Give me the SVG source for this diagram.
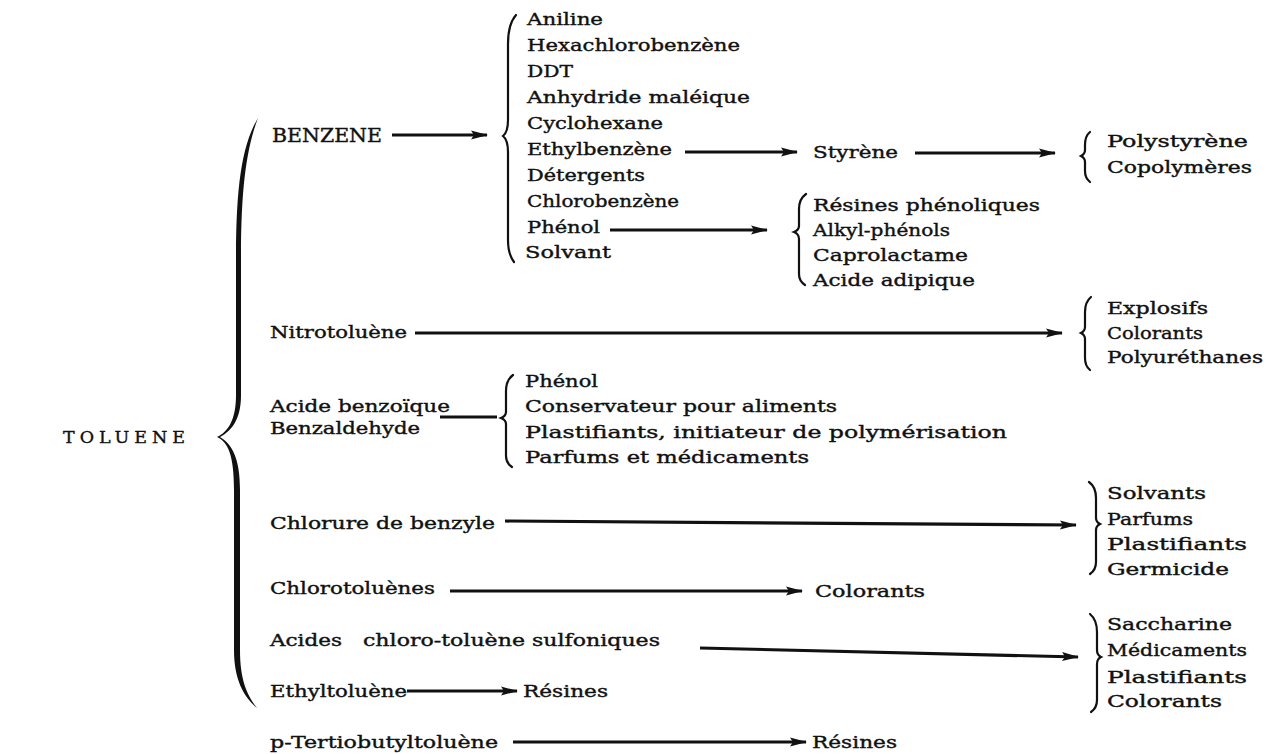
<svg xmlns="http://www.w3.org/2000/svg" width="1266" height="754" viewBox="0 0 1266 754">
<style>
text{font-family:"DejaVu Serif","Liberation Serif",serif;font-size:17.5px;fill:#111;stroke:#111;stroke-width:0.4}
.caps{font-size:19px}
.ar{stroke:#111;stroke-width:3.2;fill:none;marker-end:url(#ah)}
.ln{stroke:#111;stroke-width:3.2;fill:none}
.br{stroke:#111;stroke-width:2.2;fill:none;stroke-linecap:round}
</style>
<defs>
<marker id="ah" markerUnits="userSpaceOnUse" markerWidth="17" markerHeight="10" viewBox="0 0 17 10" refX="16" refY="5" orient="auto">
<path d="M0,0.5 L17,5 L0,9.5 L3,5 z" fill="#111"/>
</marker>
</defs>
<rect width="1266" height="754" fill="#fff"/>

<g id="toluene"><text x="63" y="443" textLength="122" lengthAdjust="spacing">TOLUENE</text>
<path d="M258,118 C242,145 236,185 236,260 L236,395 C236,420 228,432 217,437 C228,442 234,455 234,490 L234,650 C234,680 244,697 257,708 C247,695 240,680 240,650 L240,490 C240,458 232,444 220,437 C233,430 241,418 241,395 L241,260 C241,190 246,150 258,118 Z" fill="#111"/></g>

<g id="benzene"><text class="caps" x="272" y="142" textLength="110" lengthAdjust="spacingAndGlyphs">BENZENE</text></g>
<g id="benzene-products">
<path class="br" d="M516,15 Q508,24 508,44 L508,120 Q508,132 503,136 Q508,140 508,152 L508,240 Q508,254 514,262"/>
<text x="527" y="25" textLength="76" lengthAdjust="spacingAndGlyphs">Aniline</text>
<text x="527" y="51" textLength="213" lengthAdjust="spacingAndGlyphs">Hexachlorobenzène</text>
<text x="527" y="77" textLength="46" lengthAdjust="spacingAndGlyphs">DDT</text>
<text x="527" y="103" textLength="223" lengthAdjust="spacingAndGlyphs">Anhydride maléique</text>
<text x="527" y="129" textLength="136" lengthAdjust="spacingAndGlyphs">Cyclohexane</text>
<text x="527" y="155" textLength="145" lengthAdjust="spacingAndGlyphs">Ethylbenzène</text>
<text x="527" y="181" textLength="118" lengthAdjust="spacingAndGlyphs">Détergents</text>
<text x="527" y="207" textLength="152" lengthAdjust="spacingAndGlyphs">Chlorobenzène</text>
<text x="527" y="233" textLength="73" lengthAdjust="spacingAndGlyphs">Phénol</text>
<text x="525" y="258" textLength="86" lengthAdjust="spacingAndGlyphs">Solvant</text>
</g>
<g id="styrene"><text x="813" y="158" textLength="85" lengthAdjust="spacingAndGlyphs">Styrène</text></g>
<g id="styrene-products">
<path class="br" d="M1090,132 Q1085,136 1085,145 L1085,150 Q1085,154 1081,156 Q1085,158 1085,162 L1085,171 Q1085,178 1090,182"/>
<text x="1107" y="147" textLength="141" lengthAdjust="spacingAndGlyphs">Polystyrène</text>
<text x="1107" y="173" textLength="145" lengthAdjust="spacingAndGlyphs">Copolymères</text>
</g>
<g id="phenol-products">
<path class="br" d="M806,194 Q799,199 799,209 L799,226 Q799,230 794,232 Q799,234 799,239 L799,274 Q799,281 805,285"/>
<text x="813" y="211" textLength="227" lengthAdjust="spacingAndGlyphs">Résines phénoliques</text>
<text x="813" y="236" textLength="137" lengthAdjust="spacingAndGlyphs">Alkyl-phénols</text>
<text x="813" y="261" textLength="155" lengthAdjust="spacingAndGlyphs">Caprolactame</text>
<text x="813" y="286" textLength="162" lengthAdjust="spacingAndGlyphs">Acide adipique</text>
</g>

<g id="nitrotoluene"><text x="270" y="338" textLength="137" lengthAdjust="spacingAndGlyphs">Nitrotoluène</text></g>
<g id="nitro-products">
<path class="br" d="M1091,297 Q1085,302 1085,312 L1085,327 Q1085,331 1081,333 Q1085,335 1085,339 L1085,358 Q1085,366 1090,370"/>
<text x="1107" y="314" textLength="101" lengthAdjust="spacingAndGlyphs">Explosifs</text>
<text x="1107" y="339" textLength="96" lengthAdjust="spacingAndGlyphs">Colorants</text>
<text x="1107" y="363" textLength="156" lengthAdjust="spacingAndGlyphs">Polyuréthanes</text>
</g>

<g id="benzoique"><text x="270" y="412" textLength="180" lengthAdjust="spacingAndGlyphs">Acide benzoïque</text>
<text x="270" y="434" textLength="150" lengthAdjust="spacingAndGlyphs">Benzaldehyde</text></g>
<g id="benzoique-products">
<path class="br" d="M513,375 Q506,380 506,391 L506,412 Q506,416 501,418 Q506,420 506,424 L506,456 Q506,463 512,467"/>
<text x="525" y="387" textLength="73" lengthAdjust="spacingAndGlyphs">Phénol</text>
<text x="525" y="412" textLength="312" lengthAdjust="spacingAndGlyphs">Conservateur pour aliments</text>
<text x="525" y="438" textLength="482" lengthAdjust="spacingAndGlyphs">Plastifiants, initiateur de polymérisation</text>
<text x="525" y="463" textLength="284" lengthAdjust="spacingAndGlyphs">Parfums et médicaments</text>
</g>

<g id="chlorure"><text x="270" y="529" textLength="225" lengthAdjust="spacingAndGlyphs">Chlorure de benzyle</text></g>
<g id="chlorure-products">
<path class="br" d="M1089,482 Q1096,487 1096,498 L1096,518 Q1096,522 1100,524 Q1096,526 1096,530 L1096,562 Q1096,570 1090,574"/>
<text x="1107" y="499" textLength="99" lengthAdjust="spacingAndGlyphs">Solvants</text>
<text x="1107" y="525" textLength="86" lengthAdjust="spacingAndGlyphs">Parfums</text>
<text x="1107" y="550" textLength="140" lengthAdjust="spacingAndGlyphs">Plastifiants</text>
<text x="1107" y="575" textLength="122" lengthAdjust="spacingAndGlyphs">Germicide</text>
</g>

<g id="chlorotoluenes"><text x="270" y="594" textLength="165" lengthAdjust="spacingAndGlyphs">Chlorotoluènes</text></g>
<g id="chlorotoluenes-product"><text x="815" y="597" textLength="110" lengthAdjust="spacingAndGlyphs">Colorants</text></g>

<g id="acides"><text x="270" y="646"><tspan textLength="72" lengthAdjust="spacingAndGlyphs">Acides</tspan><tspan x="363" textLength="297" lengthAdjust="spacingAndGlyphs">chloro-toluène sulfoniques</tspan></text></g>
<g id="acides-products">
<path class="br" d="M1090,614 Q1097,620 1097,632 L1097,650 Q1097,655 1101,657 Q1097,659 1097,664 L1097,700 Q1097,708 1091,712"/>
<text x="1107" y="630" textLength="125" lengthAdjust="spacingAndGlyphs">Saccharine</text>
<text x="1107" y="656" textLength="140" lengthAdjust="spacingAndGlyphs">Médicaments</text>
<text x="1107" y="683" textLength="140" lengthAdjust="spacingAndGlyphs">Plastifiants</text>
<text x="1107" y="707" textLength="115" lengthAdjust="spacingAndGlyphs">Colorants</text>
</g>

<g id="ethyltoluene"><text x="270" y="697" textLength="137" lengthAdjust="spacingAndGlyphs">Ethyltoluène</text></g>
<g id="ethyltoluene-product"><text x="523" y="697" textLength="85" lengthAdjust="spacingAndGlyphs">Résines</text></g>

<g id="tertiobutyl"><text x="270" y="748" textLength="228" lengthAdjust="spacingAndGlyphs">p-Tertiobutyltoluène</text></g>
<g id="tertiobutyl-product"><text x="812" y="748" textLength="85" lengthAdjust="spacingAndGlyphs">Résines</text></g>

<g id="connectors">
<line class="ar" x1="392" y1="135" x2="487" y2="135"/>
<line class="ar" x1="685" y1="152" x2="797" y2="152"/>
<line class="ar" x1="915" y1="153" x2="1055" y2="153"/>
<line class="ar" x1="610" y1="230" x2="767" y2="230"/>
<line class="ar" x1="415" y1="333" x2="1062" y2="333"/>
<line class="ln" x1="440" y1="417" x2="497" y2="417"/>
<line class="ar" x1="505" y1="521" x2="1076" y2="525"/>
<line class="ar" x1="450" y1="591" x2="802" y2="591"/>
<line class="ar" x1="700" y1="648" x2="1078" y2="657"/>
<line class="ar" x1="407" y1="691" x2="517" y2="691"/>
<line class="ar" x1="513" y1="742" x2="806" y2="742"/>
</g>
</svg>
